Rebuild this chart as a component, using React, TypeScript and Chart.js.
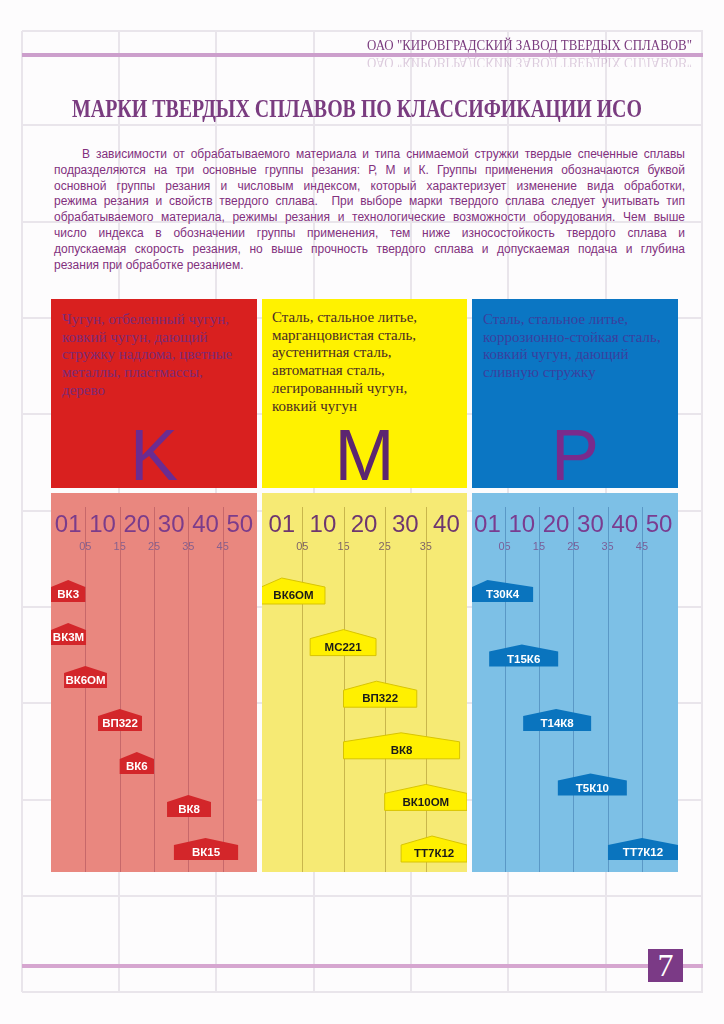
import React, { useEffect, useLayoutEffect, useRef } from 'react';
import { Chart, registerables } from 'chart.js';
Chart.register(...registerables);

// ---------- DATA ----------
const kGrades = ['ВК3', 'ВК3М', 'ВК6ОМ', 'ВП322', 'ВК6', 'ВК8', 'ВК15'];
const kRanges = [[-5, 5], [-5, 5.2], [-1.2, 11.3], [8.7, 21.5], [15, 25], [28.8, 41.6], [30.8, 49.5]];
const kPeaks = [0, 0, 5, 15, 20, 35, 40];

const mGrades = ['ВК6ОМ', 'МС221', 'ВП322', 'ВК8', 'ВК10ОМ', 'ТТ7К12'];
const mRanges = [[-5, 10.5], [6.9, 22.9], [15, 32.8], [15, 43.2], [25, 45], [29, 45]];
const mPeaks = [0, 15, 23, 29, 35, 36.5];

const pGrades = ['Т30К4', 'Т15К6', 'Т14К8', 'Т5К10', 'ТТ7К12'];
const pRanges = [[-4.5, 13.3], [0.5, 20.6], [10.4, 30.2], [20.5, 40.6], [35.1, 55.5]];
const pPeaks = [0, 10, 20, 30, 45];

const kpMajorTicks = [0, 10, 20, 30, 40, 50];
const kpMajorLabels = ['01', '10', '20', '30', '40', '50'];
const kpMinorTicks = [5, 15, 25, 35, 45];
const kpMinorLabels = ['05', '15', '25', '35', '45'];
const mMajorTicks = [0, 10, 20, 30, 40];
const mMajorLabels = ['01', '10', '20', '30', '40'];
const mMinorTicks = [5, 15, 25, 35];
const mMinorLabels = ['05', '15', '25', '35'];

const headerText = 'ОАО "КИРОВГРАДСКИЙ ЗАВОД ТВЕРДЫХ СПЛАВОВ"';
const titleText = 'МАРКИ ТВЕРДЫХ СПЛАВОВ ПО КЛАССИФИКАЦИИ ИСО';
const paragraphLines = [
  'В зависимости от обрабатываемого материала и типа снимаемой стружки твердые спеченные сплавы',
  'подразделяются на три основные группы резания: Р, М и К. Группы применения обозначаются буквой',
  'основной группы резания и числовым индексом, который характеризует изменение вида обработки,',
  'режима резания и свойств твердого сплава.  При выборе марки твердого сплава следует учитывать тип',
  'обрабатываемого материала, режимы резания и технологические возможности оборудования. Чем выше',
  'число индекса в обозначении группы применения, тем ниже износостойкость твердого сплава и',
  'допускаемая скорость резания, но выше прочность твердого сплава и допускаемая подача и глубина',
  'резания при обработке резанием.',
];
const kText = ['Чугун, отбеленный чугун,', 'ковкий чугун, дающий', 'стружку надлома, цветные', 'металлы, пластмассы,', 'дерево'];
const mText = ['Сталь, стальное литье,', 'марганцовистая сталь,', 'аустенитная сталь,', 'автоматная сталь,', 'легированный чугун,', 'ковкий чугун'];
const pText = ['Сталь, стальное литье,', 'коррозионно-стойкая сталь,', 'ковкий чугун, дающий', 'сливную стружку'];

const gridXs = [22, 119, 216, 314, 411, 508, 606, 702];
const gridYs = [31, 125, 222, 318, 414, 511, 607, 703, 800, 896, 992];

const SANS = '"Liberation Sans", Arial, sans-serif';
const SERIF = '"Liberation Serif", "Times New Roman", serif';

// ---------- helpers ----------
function Fit({ text, width, mode, style }: { text: string; width: number; mode: 'scale' | 'justify'; style?: any }) {
  const ref = useRef<HTMLSpanElement>(null);
  useLayoutEffect(() => {
    const el = ref.current;
    if (!el) return;
    el.style.transform = '';
    el.style.wordSpacing = '';
    const w = el.getBoundingClientRect().width;
    if (mode === 'justify') {
      const spaces = (text.match(/ /g) || []).length;
      if (w < width && spaces) el.style.wordSpacing = (width - w) / spaces + 'px';
      else if (w > width) el.style.transform = `scaleX(${width / w})`;
    } else {
      el.style.transform = `scaleX(${width / w})`;
    }
  }, [text, width, mode]);
  return (
    <span ref={ref} style={{ display: 'inline-block', whiteSpace: 'pre', transformOrigin: 'left center', ...style }}>
      {text}
    </span>
  );
}

type PanelProps = {
  left: number;
  width: number;
  grades: string[];
  ranges: number[][];
  peaks: number[];
  majorTicks: number[];
  majorLabels: string[];
  minorTicks: number[];
  minorLabels: string[];
  min: number;
  max: number;
  bg: string;
  lineColor: string;
  barColor: string;
  barBorder: string | null;
  textColor: string;
  barH: number;
  roof: number;
  majorColor: string;
  minorColor: string;
};

const LOWER_TOP = 493;
const LOWER_H = 379;

function PanelChart(p: PanelProps) {
  const ref = useRef<HTMLCanvasElement>(null);
  useEffect(() => {
    const canvas = ref.current!;
    const tagPlugin = {
      id: 'tags',
      beforeDatasetsDraw(chart: any) {
        const ctx = chart.ctx;
        const sx = chart.scales.x2;
        ctx.save();
        ctx.strokeStyle = p.lineColor;
        ctx.lineWidth = 1;
        p.minorTicks.forEach((v) => {
          const px = Math.round(sx.getPixelForValue(v)) + 0.5;
          ctx.beginPath();
          ctx.moveTo(px, 14);
          ctx.lineTo(px, chart.height);
          ctx.stroke();
        });
        ctx.restore();
      },
      afterDatasetsDraw(chart: any) {
        const ctx = chart.ctx;
        const sx = chart.scales.x;
        const meta = chart.getDatasetMeta(0);
        ctx.save();
        meta.data.forEach((el: any, i: number) => {
          const q = el.getProps(['x', 'y', 'base', 'height'], true);
          const l = Math.min(q.x, q.base);
          const r = Math.max(q.x, q.base);
          const top = q.y - q.height / 2;
          const bot = q.y + q.height / 2;
          const px = sx.getPixelForValue(p.peaks[i]);
          ctx.beginPath();
          ctx.moveTo(l, bot);
          ctx.lineTo(l, top + p.roof);
          ctx.lineTo(px, top);
          ctx.lineTo(r, top + p.roof);
          ctx.lineTo(r, bot);
          ctx.closePath();
          ctx.fillStyle = p.barColor;
          ctx.fill();
          if (p.barBorder) {
            ctx.strokeStyle = p.barBorder;
            ctx.lineWidth = 1;
            ctx.stroke();
          }
          ctx.fillStyle = p.textColor;
          ctx.font = `bold 11.5px ${SANS}`;
          ctx.textAlign = 'center';
          ctx.textBaseline = 'middle';
          ctx.fillText(p.grades[i], (Math.max(l, 0) + Math.min(r, chart.width)) / 2, (top + p.roof + bot) / 2 + 0.5);
        });
        ctx.restore();
      },
    };
    const chart = new Chart(canvas, {
      type: 'bar',
      data: {
        labels: p.grades,
        datasets: [
          {
            data: p.ranges as any,
            backgroundColor: 'rgba(0,0,0,0)',
            borderWidth: 0,
            barThickness: p.barH,
          },
        ],
      },
      options: {
        indexAxis: 'y',
        responsive: false,
        animation: false,
        events: [],
        layout: { padding: { top: 0, bottom: 23, left: 0, right: 0 } },
        plugins: { legend: { display: false }, tooltip: { enabled: false } },
        scales: {
          y: { type: 'category', display: false, offset: false },
          x: {
            type: 'linear',
            position: 'top',
            min: p.min,
            max: p.max,
            weight: 1,
            grid: { display: true, drawTicks: false, drawOnChartArea: false, tickLength: 0, color: 'rgba(0,0,0,0)' },
            border: { display: false },
            afterBuildTicks: (s: any) => {
              s.ticks = p.majorTicks.map((v) => ({ value: v }));
            },
            afterFit: (s: any) => {
              s.height = 47;
            },
            ticks: {
              autoSkip: false,
              maxRotation: 0,
              minRotation: 0,
              padding: 0,
              color: p.majorColor,
              font: { size: 24, family: SANS },
              callback: (_v: any, i: number) => p.majorLabels[i],
            },
          },
          x2: {
            type: 'linear',
            position: 'top',
            min: p.min,
            max: p.max,
            weight: 0,
            grid: { display: true, drawOnChartArea: false, drawTicks: true, tickLength: 37, color: 'rgba(0,0,0,0)' },
            border: { display: false },
            afterBuildTicks: (s: any) => {
              s.ticks = p.minorTicks.map((v) => ({ value: v }));
            },
            afterFit: (s: any) => {
              s.height = 51;
            },
            ticks: {
              autoSkip: false,
              maxRotation: 0,
              minRotation: 0,
              padding: 0,
              color: p.minorColor,
              font: { size: 11, family: SANS },
              callback: (_v: any, i: number) => p.minorLabels[i],
            },
          },
        } as any,
      },
      plugins: [tagPlugin],
    } as any);
    return () => chart.destroy();
  }, []);
  return (
    <div style={{ position: 'absolute', left: p.left, top: LOWER_TOP, width: p.width, height: LOWER_H, background: p.bg }}>
      <canvas ref={ref} width={p.width} height={LOWER_H} style={{ display: 'block', width: p.width, height: LOWER_H }} />
    </div>
  );
}

function UpperPanel({ left, width, bg, lines, textColor, letter, letterColor, textLeft, textTop }: any) {
  return (
    <div style={{ position: 'absolute', left, top: 299, width, height: 189, background: bg }}>
      <div
        style={{
          position: 'absolute',
          left: textLeft,
          top: textTop,
          fontFamily: SERIF,
          fontSize: 15,
          lineHeight: '17.7px',
          color: textColor,
          whiteSpace: 'pre',
        }}
      >
        {lines.map((l: string, i: number) => (
          <div key={i}>{l}</div>
        ))}
      </div>
      <div
        style={{
          position: 'absolute',
          left: 0,
          width,
          top: 120,
          textAlign: 'center',
          fontFamily: SANS,
          fontSize: 72,
          lineHeight: '72px',
          color: letterColor,
        }}
      >
        {letter}
      </div>
    </div>
  );
}

export default function App() {
  return (
    <div style={{ position: 'absolute', left: 0, top: 0, width: 724, height: 1024, background: '#fdfcfd', overflow: 'hidden' }}>
      {gridXs.map((x) => (
        <div key={'gx' + x} style={{ position: 'absolute', left: x - 1, top: gridYs[0], width: 2, height: gridYs[gridYs.length - 1] - gridYs[0], background: '#e9e5eb' }} />
      ))}
      {gridYs.map((y) => (
        <div key={'gy' + y} style={{ position: 'absolute', left: gridXs[0], top: y - 1, width: gridXs[gridXs.length - 1] - gridXs[0] + 1, height: 2, background: '#e9e5eb' }} />
      ))}

      {/* header */}
      <div style={{ position: 'absolute', left: 367, top: 39, fontFamily: SERIF, fontSize: 14, lineHeight: '14px', color: '#7a3b7e' }}>
        <Fit text={headerText} width={325} mode="scale" />
      </div>
      <div style={{ position: 'absolute', left: 22, top: 53, width: 681, height: 4, background: '#cc9fcc' }} />
      <div style={{ position: 'absolute', left: 367, top: 57, width: 330, height: 10, overflow: 'hidden', opacity: 0.25, filter: 'blur(0.4px)' }}>
        <div style={{ position: 'absolute', left: 0, top: -2, transform: 'scaleY(-1)', fontFamily: SERIF, fontSize: 14, lineHeight: '14px', color: '#7a3b7e' }}>
          <Fit text={headerText} width={325} mode="scale" />
        </div>
      </div>

      {/* title */}
      <div style={{ position: 'absolute', left: 72, top: 96, fontFamily: SERIF, fontWeight: 'bold', fontSize: 25, lineHeight: '25px', color: '#7a3c80' }}>
        <Fit text={titleText} width={570} mode="scale" />
      </div>

      {/* paragraph */}
      {paragraphLines.map((line, i) => {
        const left = i === 0 ? 82 : 54;
        const last = i === paragraphLines.length - 1;
        return (
          <div
            key={'p' + i}
            style={{ position: 'absolute', left, top: 147 + 15.8 * i, fontFamily: SANS, fontSize: 12, lineHeight: '15.8px', color: '#82307e' }}
          >
            {last ? <span style={{ whiteSpace: 'pre' }}>{line}</span> : <Fit text={line} width={685 - left} mode="justify" />}
          </div>
        );
      })}

      {/* upper panels */}
      <UpperPanel left={51} width={206} bg="#d9201f" lines={kText} textColor="#7a2a78" letter="K" letterColor="#6b2c91" textLeft={11} textTop={12} />
      <UpperPanel left={262} width={205} bg="#fff200" lines={mText} textColor="#4a2c24" letter="M" letterColor="#5c2670" textLeft={10} textTop={10} />
      <UpperPanel left={472} width={206} bg="#0b76c3" lines={pText} textColor="#3a3f9e" letter="P" letterColor="#7a2b8c" textLeft={11} textTop={12} />

      {/* lower panels (charts) */}
      <PanelChart
        left={51}
        width={206}
        grades={kGrades}
        ranges={kRanges}
        peaks={kPeaks}
        majorTicks={kpMajorTicks}
        majorLabels={kpMajorLabels}
        minorTicks={kpMinorTicks}
        minorLabels={kpMinorLabels}
        min={-5}
        max={55}
        bg="#e9877f"
        lineColor="#c7686a"
        barColor="#d3262a"
        barBorder={null}
        textColor="#ffffff"
        barH={22}
        roof={7}
        majorColor="#7b3c8b"
        minorColor="#87608e"
      />
      <PanelChart
        left={262}
        width={205}
        grades={mGrades}
        ranges={mRanges}
        peaks={mPeaks}
        majorTicks={mMajorTicks}
        majorLabels={mMajorLabels}
        minorTicks={mMinorTicks}
        minorLabels={mMinorLabels}
        min={-4.8}
        max={45}
        bg="#f6ea74"
        lineColor="#c9b64c"
        barColor="#fff000"
        barBorder="#d8c400"
        textColor="#1a1a1a"
        barH={26}
        roof={9}
        majorColor="#6e3670"
        minorColor="#7e6468"
      />
      <PanelChart
        left={472}
        width={206}
        grades={pGrades}
        ranges={pRanges}
        peaks={pPeaks}
        majorTicks={kpMajorTicks}
        majorLabels={kpMajorLabels}
        minorTicks={kpMinorTicks}
        minorLabels={kpMinorLabels}
        min={-4.5}
        max={55.5}
        bg="#7dc0e6"
        lineColor="#5a98c6"
        barColor="#0a74be"
        barBorder={null}
        textColor="#ffffff"
        barH={22}
        roof={7}
        majorColor="#7a3c90"
        minorColor="#7a5e98"
      />

      {/* footer */}
      <div style={{ position: 'absolute', left: 22, top: 964, width: 681, height: 4, background: '#d6a6d0' }} />
      <div
        style={{
          position: 'absolute',
          left: 648,
          top: 949,
          width: 35,
          height: 33,
          background: '#7b3a86',
          color: '#ffffff',
          fontFamily: SERIF,
          fontSize: 32,
          lineHeight: '33px',
          textAlign: 'center',
        }}
      >
        7
      </div>
    </div>
  );
}
